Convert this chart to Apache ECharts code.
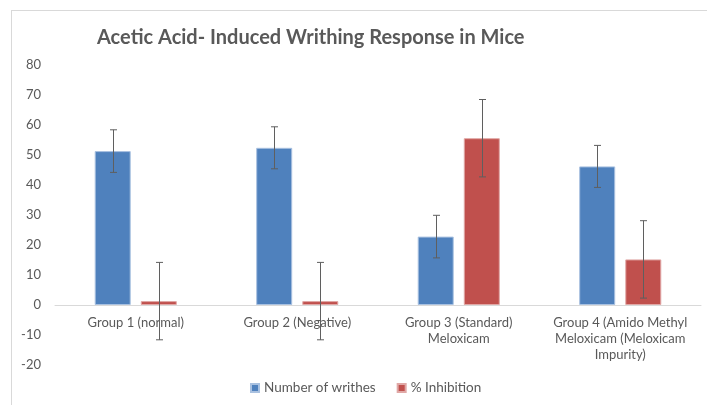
<!DOCTYPE html>
<html>
<head>
<meta charset="utf-8">
<script src="https://cdn.jsdelivr.net/npm/echarts@6/dist/echarts.min.js"></script>
<style>
  html, body { margin: 0; padding: 0; background: #fff; }
  #main { width: 707px; height: 405px; }
</style>
</head>
<body>
<div id="main"></div>
<script>
var groups = ['Group 1 (normal)', 'Group 2 (Negative)', 'Group 3 (Standard)\nMeloxicam', 'Group 4 (Amido Methyl\nMeloxicam (Meloxicam\nImpurity)'];
var writhes = [51.3, 52.4, 22.8, 46.2];
var writhesErr = [7.1, 7.0, 7.1, 7.0];
var inhibition = [1.3, 1.3, 55.6, 15.2];
var inhibitionErr = [12.9, 12.9, 12.9, 12.9];
var yTicks = [-20, -10, 0, 10, 20, 30, 40, 50, 60, 70, 80];

var barW = 36
var barGap = 0.28
var offset = (barW + barW * barGap) / 2

// plot area
var gridTop = 65, gridBottom = 40
var plotH = 405 - gridTop - gridBottom
var yMin = yTicks[0], yMax = yTicks[yTicks.length - 1]
// move the category axis (line + labels) up to the zero line
var zeroShift = plotH * (0 - yMin) / (yMax - yMin)

function errorData(vals, errs) {
  return vals.map(function (v, i) { return [i, v - errs[i], v + errs[i]] })
}

function errorRender(shift) {
  return function (params, api) {
    var lo = api.coord([api.value(0), api.value(1)])
    var hi = api.coord([api.value(0), api.value(2)])
    var x = Math.round(lo[0] + shift) + 0.5
    var cap = 3.5
    var style = { stroke: '#5f5f5f', lineWidth: 1 }
    return {
      type: 'group',
      children: [
        { type: 'line', shape: { x1: x, y1: hi[1], x2: x, y2: lo[1] }, style: style },
        { type: 'line', shape: { x1: x - cap, y1: hi[1], x2: x + cap, y2: hi[1] }, style: style },
        { type: 'line', shape: { x1: x - cap, y1: lo[1], x2: x + cap, y2: lo[1] }, style: style }
      ]
    }
  }
}

var chart = echarts.init(document.getElementById('main'))
var option = {
  animation: false,
  title: {
    text: 'Acetic Acid- Induced Writhing Response in Mice',
    left: 92,
    top: 23,
    textStyle: { fontFamily: 'Lato', fontWeight: 'bold', fontSize: 20, color: '#595959' }
  },
  legend: {
    data: ['Number of writhes', '% Inhibition'],
    bottom: 5,
    left: 245,
    icon: 'rect',
    itemWidth: 8,
    itemHeight: 8,
    itemGap: 21,
    textStyle: { fontFamily: 'Lato', fontSize: 13.5, color: '#595959' }
  },
  grid: { left: 55, right: 6, top: gridTop, bottom: gridBottom, containLabel: false, outerBoundsMode: 'none' },
  xAxis: {
    type: 'category',
    data: groups,
    offset: -zeroShift,
    axisLine: { onZero: false, lineStyle: { color: '#d9d9d9' } },
    axisTick: { show: false },
    axisLabel: { color: '#595959', fontFamily: 'Lato', fontSize: 13, margin: 10, lineHeight: 16, interval: 0 },
    z: 1
  },
  yAxis: {
    type: 'value',
    min: yMin,
    max: yMax,
    interval: 10,
    axisLine: { show: false },
    axisTick: { show: false },
    splitLine: { show: false },
    axisLabel: { color: '#595959', fontFamily: 'Lato', fontSize: 13, margin: 14 }
  },
  graphic: [
    { type: 'line', shape: { x1: 11.5, y1: 10, x2: 11.5, y2: 405 }, style: { stroke: '#d9d9d9', lineWidth: 1 } },
    { type: 'line', shape: { x1: 11, y1: 10.5, x2: 707, y2: 10.5 }, style: { stroke: '#d9d9d9', lineWidth: 1 } }
  ],
  series: [
    {
      name: 'Number of writhes',
      type: 'bar',
      data: writhes,
      barWidth: barW,
      barGap: (barGap * 100) + '%',
      itemStyle: { color: '#4F81BD', borderColor: '#a9c1e0', borderWidth: 1 }
    },
    {
      name: '% Inhibition',
      type: 'bar',
      data: inhibition,
      barWidth: barW,
      itemStyle: { color: '#C0504D', borderColor: '#e0a8a6', borderWidth: 1 }
    },
    {
      type: 'custom',
      data: errorData(writhes, writhesErr),
      renderItem: errorRender(-offset),
      z: 10
    },
    {
      type: 'custom',
      data: errorData(inhibition, inhibitionErr),
      renderItem: errorRender(offset),
      z: 10
    }
  ]
}
chart.setOption(option)
</script>
</body>
</html>
